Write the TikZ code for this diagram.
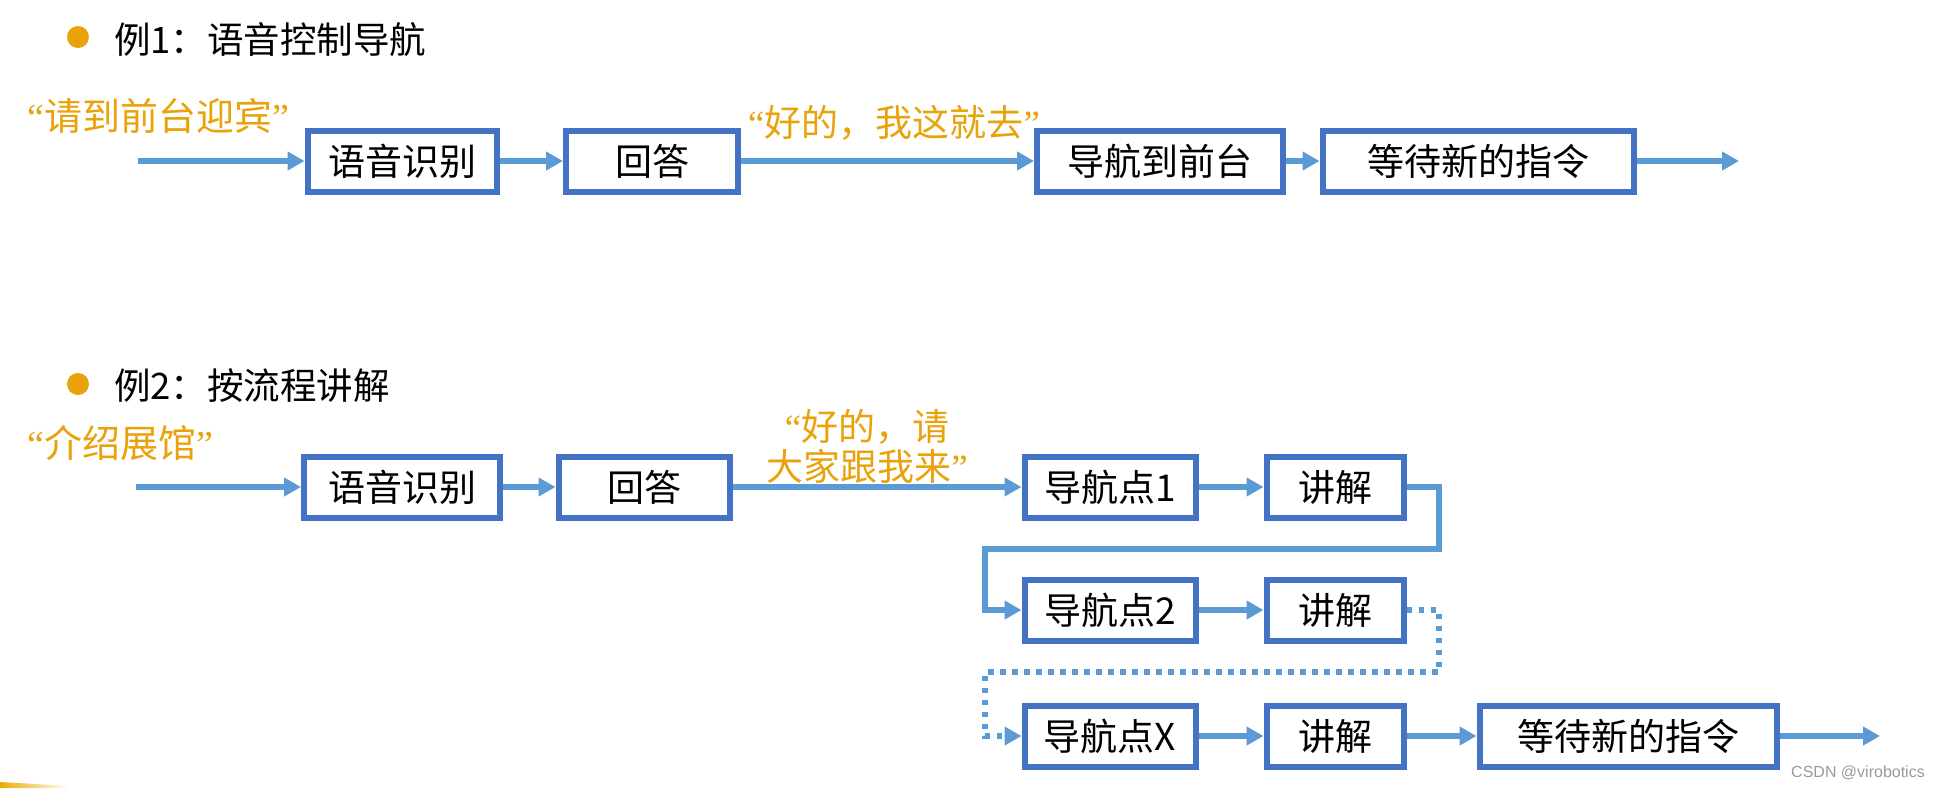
\documentclass[tikz,border=0pt]{standalone}
\usepackage{fontspec}
\setmainfont{Noto Sans CJK SC}
\newfontfamily\qfont{Liberation Serif}
\newfontfamily\wmfont{Liberation Sans}
\usetikzlibrary{arrows.meta}
\definecolor{boxblue}{HTML}{4472C4}
\definecolor{arrblue}{HTML}{5B9BD5}
\definecolor{orng}{HTML}{E9A20A}
\definecolor{wmgray}{HTML}{9A9A9A}
\newcommand\oq{{\qfont “}}
\newcommand\cq{{\qfont ”}}
\begin{document}
\begin{tikzpicture}[x=1pt,y=-1pt,
  box/.style={draw=boxblue, line width=6pt, fill=white, minimum height=61pt, inner sep=0pt, font=\fontsize{37}{40}\selectfont},
  flow/.style={draw=arrblue, line width=6pt, -{Triangle[length=17pt,width=18pt]}},
  dotflow/.style={draw=arrblue, line width=5.5pt, dash pattern=on 5.5pt off 6.5pt, -{Triangle[length=17pt,width=18pt]}},
  lbl/.style={text=orng, inner sep=0pt, font=\fontsize{37}{40}\selectfont},
  title/.style={text=black, inner sep=0pt, anchor=west, font=\fontsize{36.5}{40}\selectfont},
  bullet/.style={circle, fill=orng, minimum size=22pt, inner sep=0pt}]
\useasboundingbox (0,0) rectangle (1934,788);
\fill[white] (0,0) rectangle (1934,788);

% ---------- Example 1 ----------
\node[bullet] (d1) at (78,37) {};
\node[title] (t1) at (114,40) {例1：语音控制导航};
\node[lbl, anchor=west, font=\fontsize{38}{40}\selectfont] (q1) at (27,116) {\oq 请到前台迎宾\cq};

\coordinate (a0) at (138,161);
\node[box, minimum width=189pt] (a1) at (402,161) {语音识别};
\node[box, minimum width=172pt] (a2) at (652,161) {回答};
\node[box, minimum width=246pt] (a3) at (1160,161) {导航到前台};
\node[box, minimum width=311pt] (a4) at (1478,161) {等待新的指令};
\coordinate (a5) at (1739,161);

\draw[flow] (a0) -- (a1);
\draw[flow] (a1) -- (a2);
\draw[flow] (a2) -- (a3);
\draw[flow] (a3) -- (a4);
\draw[flow] (a4) -- (a5);
\node[lbl] (q2) at (894,123) {\oq 好的，我这就去\cq};

% ---------- Example 2 ----------
\node[bullet] (d2) at (78,384) {};
\node[title] (t2) at (114,386) {例2：按流程讲解};
\node[lbl, anchor=west, font=\fontsize{38}{40}\selectfont] (q3) at (27,443) {\oq 介绍展馆\cq};

\coordinate (b0) at (136,487);
\node[box, minimum width=196pt] (b1) at (402,487) {语音识别};
\node[box, minimum width=171pt] (b2) at (644,487) {回答};
\node[box, minimum width=171pt] (b3) at (1110,487) {导航点1};
\node[box, minimum width=137pt] (b4) at (1335,487) {讲解};

\node[box, minimum width=171pt] (b5) at (1110,610) {导航点2};
\node[box, minimum width=137pt] (b6) at (1335,610) {讲解};

\node[box, minimum width=171pt] (b7) at (1110,736) {导航点X};
\node[box, minimum width=137pt] (b8) at (1335,736) {讲解};
\node[box, minimum width=297pt] (b9) at (1628,736) {等待新的指令};
\coordinate (b10) at (1880,736);

\coordinate (r1) at (1439,487);
\coordinate (r2) at (1439,549);
\coordinate (l1) at (985,549);
\coordinate (l2) at (985,610);
\coordinate (r3) at (1439,610);
\coordinate (r4) at (1439,672);
\coordinate (l3) at (985,672);
\coordinate (l4) at (985,736);

\draw[flow] (b0) -- (b1);
\draw[flow] (b1) -- (b2);
\draw[flow] (b2) -- (b3);
\draw[flow] (b3) -- (b4);
\draw[flow, line join=miter] (b4.east) -- (r1) -- (r2) -- (l1) -- (l2) -- (b5.west);
\draw[flow] (b5) -- (b6);
\draw[dotflow] (b6.east) -- (r3) -- (r4) -- (l3) -- (l4) -- (b7.west);
\draw[flow] (b7) -- (b8);
\draw[flow] (b8) -- (b9);
\draw[flow] (b9) -- (b10);

\node[lbl, align=center] (q4) at (867,446) {\oq 好的，请\\大家跟我来\cq};

% ---------- watermark & corner ----------
\node[anchor=east, inner sep=0pt, text=wmgray, font=\wmfont\fontsize{16}{18}\selectfont] (wm) at (1925,773) {CSDN @virobotics};
\shade[left color=orng!90!yellow, right color=white] (0,782) -- (70,786) -- (70,788) -- (0,788) -- cycle;
\end{tikzpicture}
\end{document}
